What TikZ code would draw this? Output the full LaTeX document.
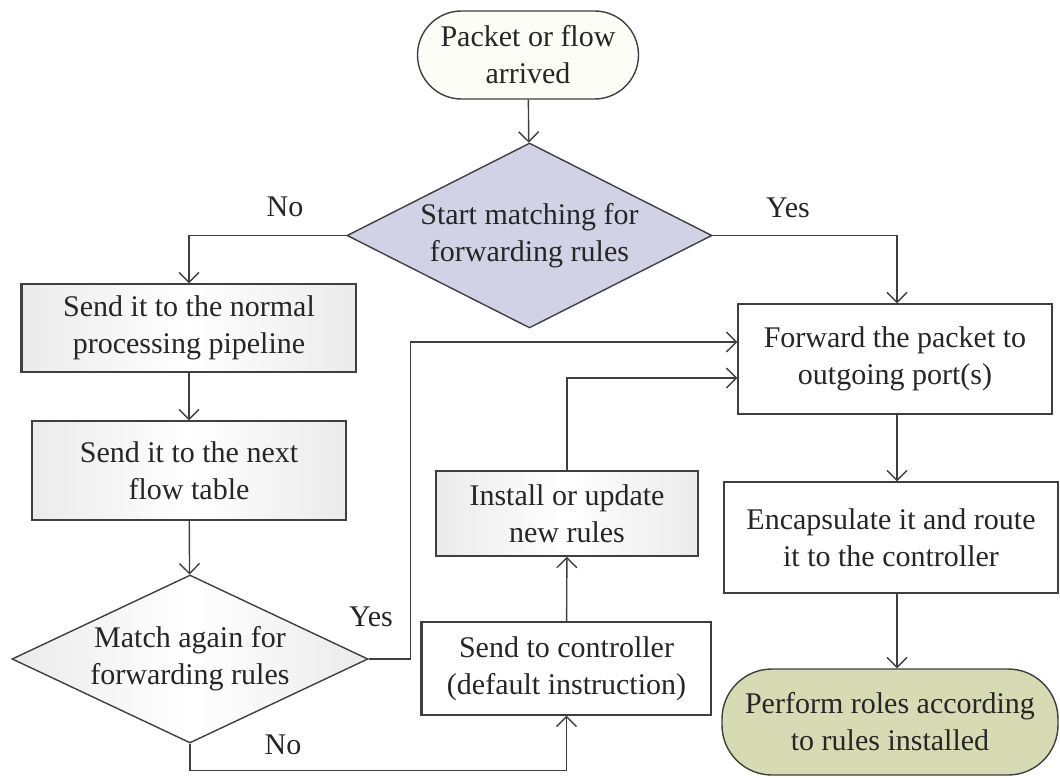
\documentclass[tikz,border=0pt]{standalone}
\usepackage{fontspec}
\setmainfont{Liberation Serif}
\usetikzlibrary{shapes.geometric,arrows.meta,calc}
\definecolor{linegray}{HTML}{3F3F3F}
\definecolor{lavender}{HTML}{D2D2E6}
\definecolor{olive}{HTML}{D7DBB3}
\definecolor{cream}{HTML}{FDFDF8}
\begin{document}
\begin{tikzpicture}[x=1pt,y=-1pt,
  every node/.style={font=\fontsize{30}{37}\selectfont, text=black!85},
  base/.style={draw=linegray, line width=1.4pt, align=center, inner sep=2pt},
  plainbox/.style={base, rectangle, fill=white},
  shadebox/.style={base, rectangle, left color=black!8, right color=black!8, middle color=white},
  terminal/.style={base, rectangle, rounded corners=44pt},
  decision/.style={base, diamond, aspect=2, inner sep=0pt},
  link/.style={draw=linegray, line width=1.4pt, -{Straight Barb[length=10pt,width=20pt,line width=1.4pt]}},
  edge/.style={draw=linegray, line width=2.8pt},
  lbl/.style={inner sep=0pt}]
\useasboundingbox (0,0) rectangle (1060,778);

% nodes
\node[terminal, fill=cream, minimum width=221pt, minimum height=88pt] (start) at (528,55) {Packet or flow\\arrived};
\node[decision, fill=lavender, minimum width=365pt, minimum height=185pt] (d1) at (529.5,235.5) {Start matching for\\forwarding rules};
\node[shadebox, minimum width=334pt, minimum height=88pt] (n1) at (189,328) {Send it to the normal\\processing pipeline};
\node[shadebox, minimum width=314pt, minimum height=99pt] (n2) at (189,470.5) {Send it to the next\\flow table};
\node[decision, left color=black!8, right color=black!8, middle color=white, minimum width=356pt, minimum height=168pt] (d2) at (190,659) {Match again for\\forwarding rules};
\node[plainbox, minimum width=289pt, minimum height=93pt] (ctrl) at (566.5,668.5) {Send to controller\\(default instruction)};
\node[shadebox, minimum width=262pt, minimum height=85pt] (inst) at (567,513.5) {Install or update\\new rules};
\node[plainbox, minimum width=314pt, minimum height=110pt] (fwd) at (895,359) {Forward the packet to\\outgoing port(s)};
\node[plainbox, minimum width=334pt, minimum height=111pt] (enc) at (891,537.5) {Encapsulate it and route\\it to the controller};
\node[terminal, fill=olive, rounded corners=50pt, minimum width=336pt, minimum height=106pt] (perf) at (890,722) {Perform roles according\\to rules installed};

% heavier left edges
\draw[edge] (n1.south west) -- (n1.north west);
\draw[edge] (ctrl.south west) -- (ctrl.north west);

% connectors
\draw[link] (start) -- (d1);
\draw[link] (d1.west) -| (n1.north);
\draw[link] (d1.east) -| ($(fwd.north)+(2,0)$);
\draw[link] (n1) -- (n2);
\draw[link] (n2) -- (d2);
\draw[link] (d2.east) -- ++(42,0) |- ($(fwd.west)+(0,-17)$);
\draw[link] (d2.south) -- ++(0,27) -| (ctrl.south);
\draw[link] (ctrl) -- (inst);
\draw[link] (inst.north) |- ($(fwd.west)+(0,19)$);
\draw[link] ($(fwd.south)+(2,0)$) -- ($(enc.north)+(6,0)$);
\draw[link] ($(enc.south)+(6,0)$) -- ($(perf.north)+(7,0)$);

% branch labels
\node[lbl] (no1) at (285,207) {No};
\node[lbl] (yes1) at (788,208) {Yes};
\node[lbl] (yes2) at (371,617) {Yes};
\node[lbl] (no2) at (283,745) {No};
\end{tikzpicture}
\end{document}
